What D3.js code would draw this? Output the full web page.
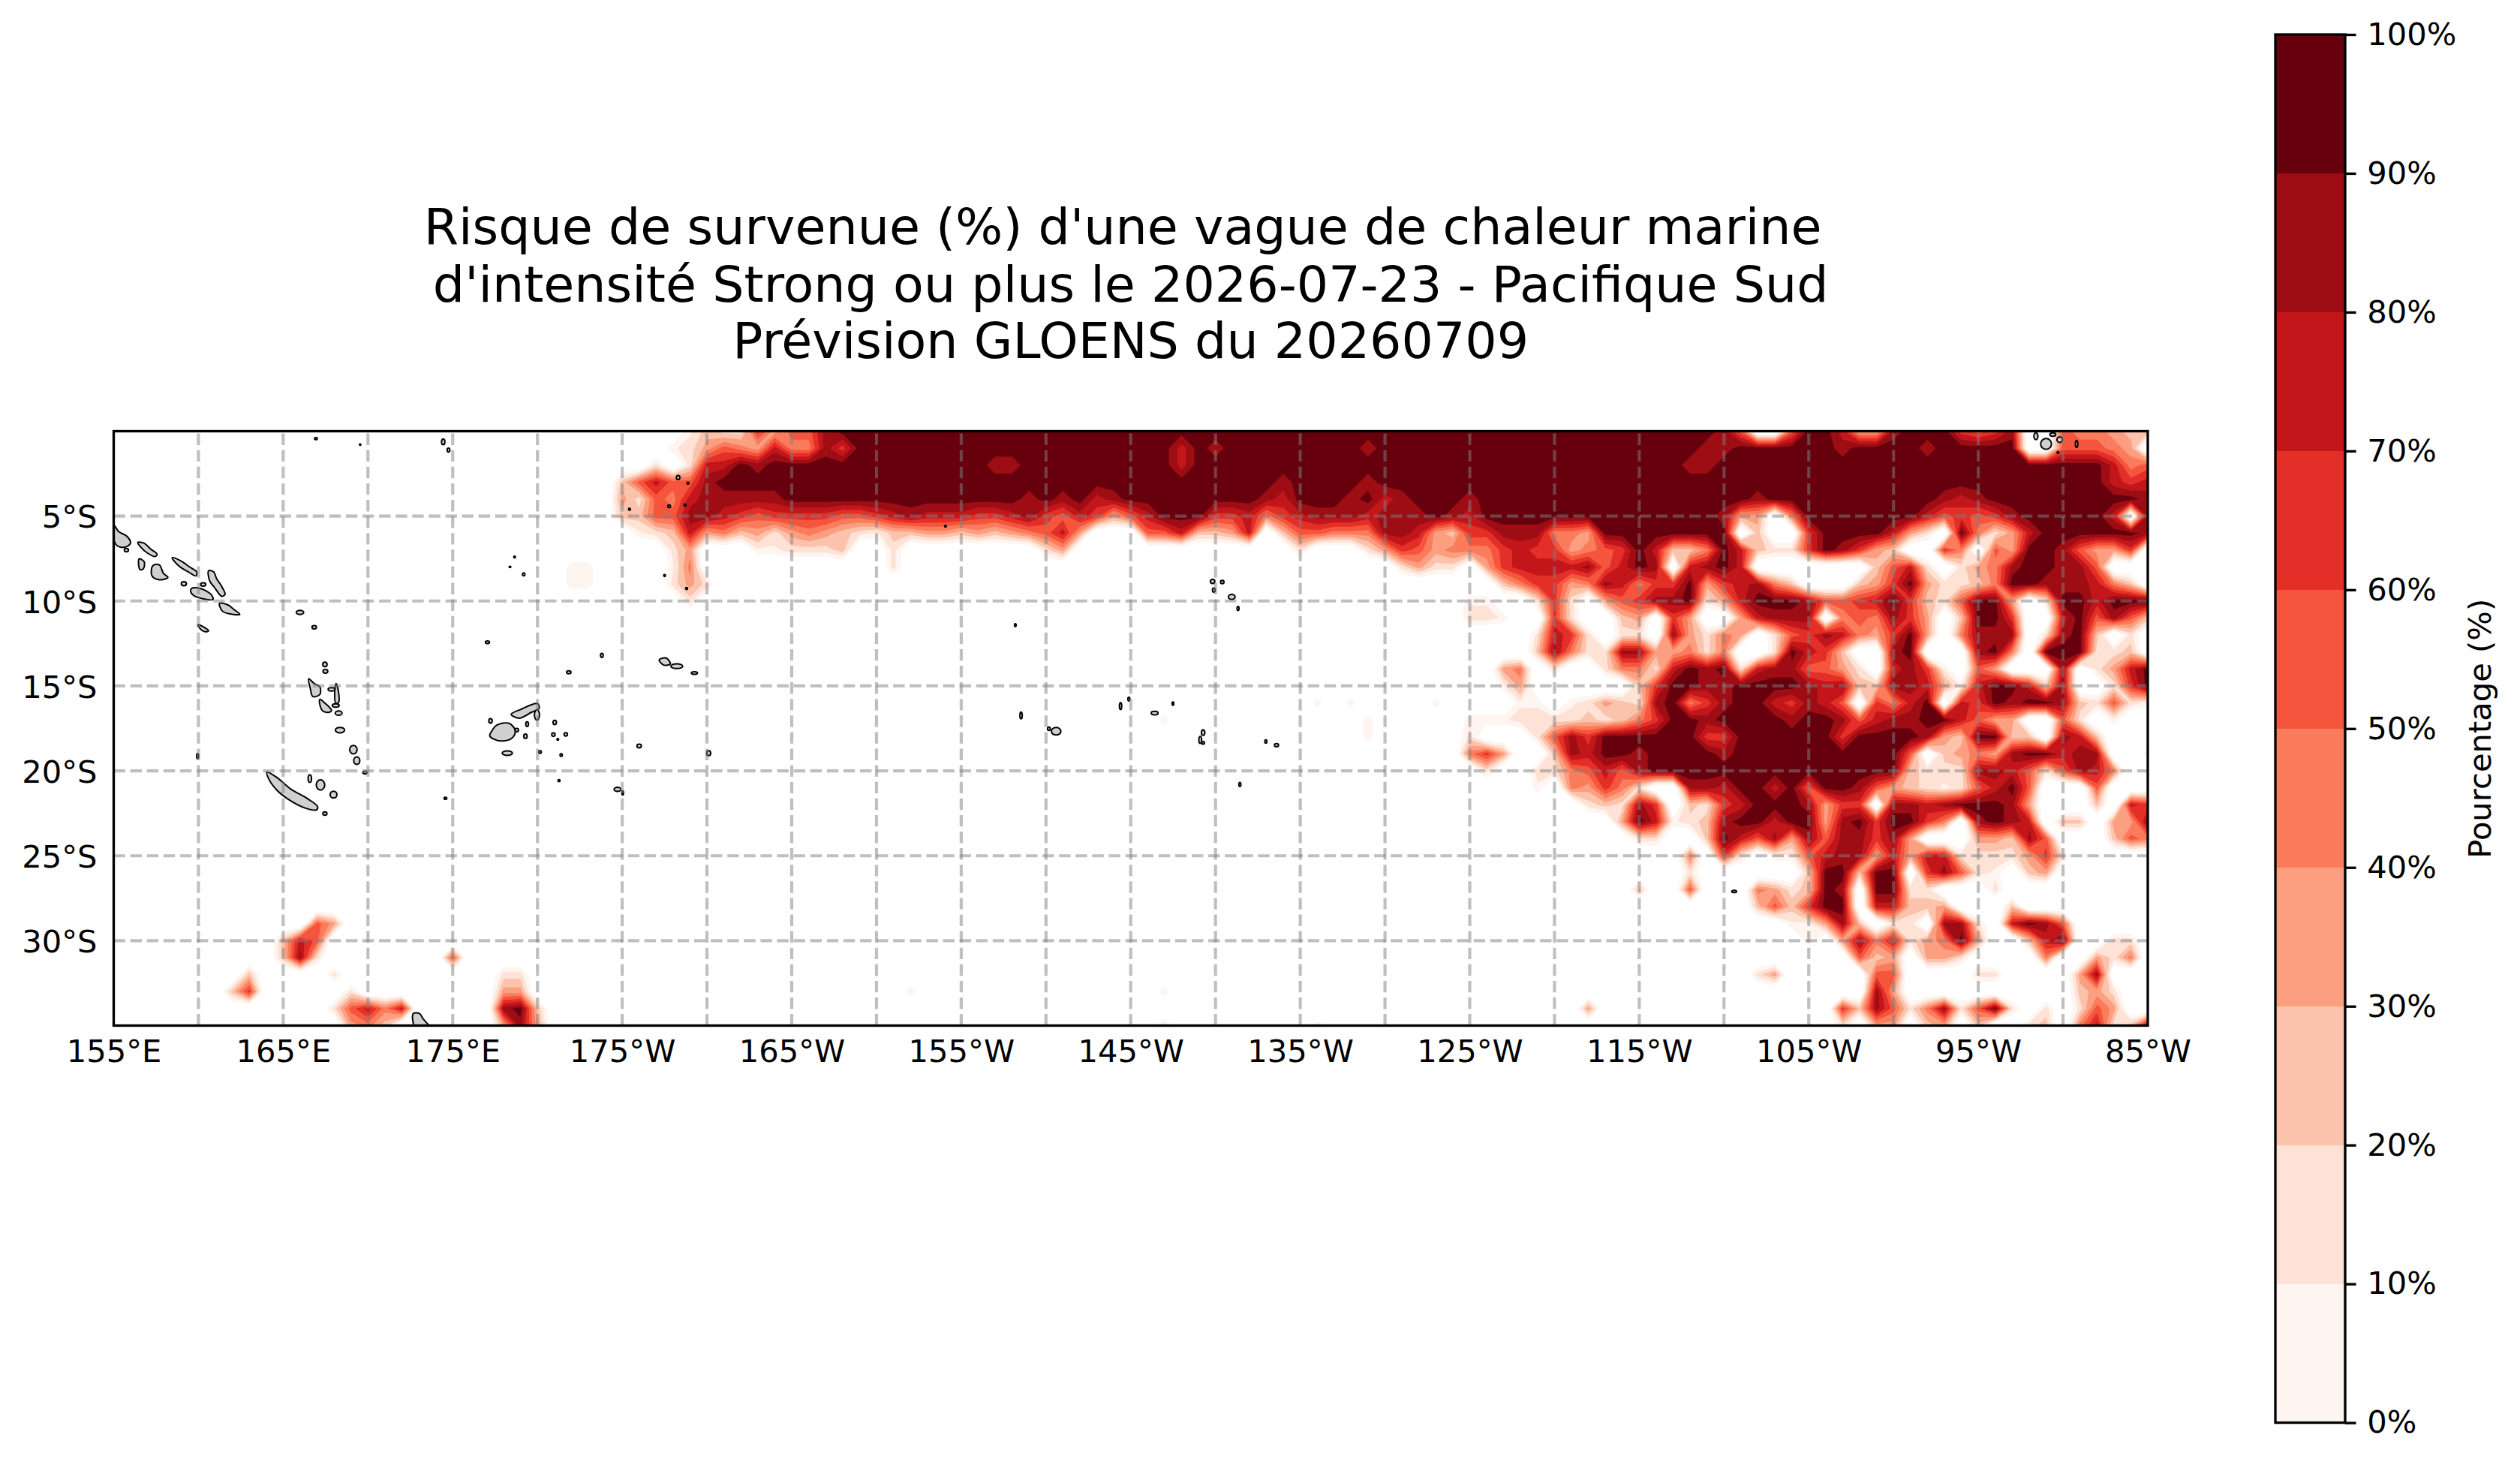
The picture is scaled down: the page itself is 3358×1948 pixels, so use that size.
<!DOCTYPE html>
<html><head><meta charset="utf-8">
<style>html,body{margin:0;padding:0;background:#fff}svg{display:block}text{font-family:"DejaVu Sans";fill:#000}</style>
<script src="https://cdn.jsdelivr.net/npm/d3@7/dist/d3.min.js"></script>
</head><body><div id="chart"></div>
<script>
const titleLines = ["Risque de survenue (%) d'une vague de chaleur marine ", "d'intensité Strong ou plus le 2026-07-23 - Pacifique Sud", "Prévision GLOENS du 20260709"];
const cbarLabel = "Pourcentage (%)";
const levels = [0,10,20,30,40,50,60,70,80,90,100];
const levelColors = ["#fff5f0","#fee2d5","#fcc3ac","#fc9f81","#fb7c5c","#f5553c","#e32f27","#c2161b","#9e0d14","#67000d"];
const lonTicks = [155,165,175,185,195,205,215,225,235,245,255,265,275];
const latTicks = [-5,-10,-15,-20,-25,-30];
const lonGrid = [160,165,170,175,180,185,190,195,200,205,210,215,220,225,230,235,240,245,250,255,260,265,270];
const latGrid = [-5,-10,-15,-20,-25,-30];
// percent value standing for each decile digit; the "no value" cells sit below zero
const decileValues = [8,15,25,35,45,55,65,75,85,95];
const noValue = -20;

// risk, one row per degree of latitude: deciles 0-9, "." = no value.
// [lon,"digits"] places digits eastward from lon; [lonA,lonB,d] repeats a decile.
const lat00=[[189,"021163558"],[198,250,9],[250,"85..599733899965686.544322"],[268,"."]];
const lat01=[[188,"01354374486"],[199,248,9],[218,"7"],[220,"8"],[229,"8"],[249,"88999999899998999999.55543."],[268,"."]];
const lat02=[[187,"1.17798"],[194,271,9],[207,"88"],[218,"7"],[248,"88"],[272,"9745"]];
const lat03=[[185,"257558"],[191,272,9],[224,"8"],[229,"8"],[273,"767"]];
const lat04=[[185,"3154788888"],[195,275,9],[209,"8"],[211,"8"],[213,"78"],[223,"87"],[228,"8"],[230,"78"],[235,"8"],[252,"8"],[263,"878"],[275,"8"]];
const lat05=[[185,"225588765666655678777667865763579996674678887888987"],[236,249,9],[250,"833.4"],[255,261,9],[262,"756568"],[268,272,9],[273,"7.8"]];
const lat06=[[186,"012734231343210223323234573...5572237.2554448873266888443"],[243,250,9],[251,"."],[252,"2..6"],[256,259,9],[260,"731.94137"],[269,274,9],[275,"8"]];
const lat07=[[188,"13"],[193,"001112"],[201,"1"],[210,"13"],[225,"1"],[229,"13"],[231,"653444676634569722497211698632..64.539985336"]];
const lat08=[[182,"00"],[188,"04"],[201,"1"],[231,"1311.36777785798.7897.......2571.134899885..."]];
const lat09=[[182,"00"],[188,"131"],[237,"246634874669367842...23693112499888742."]];
const lat10=[[189,"1"],[235,"00"],[239,"161.3568891379998556796215993.1997999"]];
const lat11=[[235,"110"],[240,"61"],[244,"23.63..37888.454863.2996..795852"]];
const lat12=[[239,"1761"],[244,"11.83143.1568743693.4888.1892.1."]];
const lat13=[[239,"284118833414..19762..89...894.999112."]];
const lat14=[[237,"34.1"],[243,"1441798917885531.7860.53...8.1379"]];
const lat15=[[237,"03"],[245,"26998899998782288730799728..169"]];
const lat16=[[226,"0"],[228,"0"],[233,"0"],[238,"00.01321894689976875.6479.769899821510"]];
const lat17=[[217,"0"],[229,"0"],[235,"000111121246998999989985788997533..51.0"]];
const lat18=[[229,"0"],[235,"1"],[239,"1586999999669999996"],[258,261,9],[262,"8329922.872"]];
const lat19=[[235,"463"],[240,"287"],[243,"998"],[246,249,9],[250,"8"],[251,260,9],[261,"5.2343899788..0"]];
const lat20=[[236,"1"],[239,"1145758"],[246,260,9],[261,"2111887515874"]];
const lat21=[[239,"0"],[241,"43641..887997959985321015795"],[272,"5"]];
const lat22=[[242,"12186.21679998366.887899983"],[272,"2"],[274,"76"]];
const lat23=[[244,"39701289979938969964.8987"],[270,"22"],[273,"338"]];
const lat24=[[245,"11"],[249,"2975838588683"],[265,"33285"],[273,"254"]];
const lat25=[[248,"4.61.005788373771111361"]];
const lat26=[[248,"1"],[255,"299299"],[262,"68510.23"]];
const lat27=[[245,"2"],[248,"5"],[252,"431298.9911"],[266,"1"]];
const lat28=[[252,"252699.77223"],[267,"2"]];
const lat29=[[167,"53"],[254,"00382.11.881.7985"]];
const lat30=[[165,"275"],[255,"0.384713493..279..11"]];
const lat31=[[165,"281"],[175,"5"],[258,"523.331"],[269,"4"],[272,"314"]];
const lat32=[[163,"2"],[168,"1"],[178,"11"],[252,"13"],[259,"55"],[265,"11"],[271,"38"]];
const lat33=[[162,"26"],[169,"1"],[178,"33"],[202,"0"],[217,"0"],[259,"83"],[271,"231"]];
const lat34=[[168,"15747"],[178,"892"],[242,"3"],[257,"62851481591"],[269,"1"],[271,"153"]];
const lat35=[[169,"342"],[178,"383"],[217,"1"],[226,"0"],[257,"1.33.23.2"],[268,"12.47128"]];
const latRows=[lat00,lat01,lat02,lat03,lat04,lat05,lat06,lat07,lat08,lat09,lat10,lat11,lat12,lat13,lat14,lat15,lat16,lat17,lat18,lat19,lat20,lat21,lat22,lat23,lat24,lat25,lat26,lat27,lat28,lat29,lat30,lat31,lat32,lat33,lat34,lat35];

// land outlines, lon/lat
const landOutlines=[
[[155,-5.51],[155.28,-5.9],[155.79,-6.2],[155.99,-6.6],[155.66,-6.83],[155.23,-6.76],[155,-6.37]],
[[156.42,-6.55],[156.8,-6.6],[157.18,-6.94],[157.56,-7.25],[157.44,-7.38],[157,-7.18],[156.6,-6.83]],
[[158.45,-7.45],[158.96,-7.64],[159.47,-7.99],[159.9,-8.29],[159.85,-8.52],[159.47,-8.33],[158.83,-7.92]],
[[156.5,-7.52],[156.8,-7.69],[156.75,-8.1],[156.55,-8.15]],
[[157.31,-7.92],[157.69,-7.87],[157.94,-8.38],[158.2,-8.61],[157.69,-8.75],[157.26,-8.52]],
[[160.6,-8.22],[160.9,-8.29],[161.07,-8.68],[161.37,-9.14],[161.57,-9.61],[161.37,-9.72],[160.99,-9.26],[160.66,-8.8]],
[[159.6,-9.26],[160.1,-9.26],[160.74,-9.61],[160.86,-9.91],[160.23,-9.86],[159.72,-9.68],[159.54,-9.44]],
[[161.24,-10.14],[161.74,-10.23],[162.13,-10.53],[162.44,-10.79],[161.88,-10.76],[161.42,-10.6]],
[[159.97,-11.39],[160.3,-11.53],[160.6,-11.76],[160.4,-11.81],[160.05,-11.57]],
[[166.5,-14.58],[166.83,-14.86],[167.16,-15.05],[167.16,-15.5],[166.75,-15.63],[166.6,-15.16]],
[[167.16,-15.79],[167.47,-16.02],[167.85,-16.44],[167.72,-16.55],[167.34,-16.48],[167.16,-16.09]],
[[168.12,-14.86],[168.25,-15.28],[168.27,-15.97],[168.1,-16.02],[168.04,-15.39]],
[[164.04,-20.07],[164.67,-20.42],[165.43,-21.06],[166.45,-21.65],[167.03,-22.11],[166.96,-22.3],[166.32,-22.2],[165.43,-21.76],[164.67,-21.18],[164.16,-20.5]],
[[177.28,-17.7],[177.6,-17.31],[178.32,-17.2],[178.68,-17.6],[178.57,-18],[178,-18.24],[177.36,-18.1],[177.18,-17.92]],
[[178.45,-16.67],[179,-16.39],[180,-16.04],[180.1,-16.32],[179.65,-16.55],[178.9,-16.9]],
[[187.18,-13.47],[187.59,-13.36],[187.84,-13.7],[187.44,-13.77]],
[[172.67,-34.3],[173.05,-34.3],[173.25,-34.6],[173.68,-35.1],[173.9,-35.6],[172.9,-35.4]]
];
// small islands: lon, lat, half-width and half-height in degrees
const smallIslands=[
[159.14,-8.98,.15,.12],[160.28,-9.03,.15,.1],[155.75,-7,.12,.1],[165.99,-10.67,.22,.12],[166.83,-11.55,.13,.1],[167.46,-13.73,.13,.13],[167.49,-14.14,.14,.11],
[167.85,-15.2,.2,.1],[168.1,-16.15,.2,.1],[168.27,-16.6,.2,.13],[168.35,-17.6,.27,.16],[169.14,-18.75,.22,.25],[169.34,-19.4,.18,.22],[169.82,-20.1,.12,.08],
[166.57,-20.46,.1,.22],[167.2,-20.83,.25,.3],[167.97,-21.4,.2,.2],[167.46,-22.52,.12,.1],[179.97,-16.71,.15,.3],[177.23,-17.06,.1,.13],[179.39,-17.25,.08,.14],
[178.78,-17.6,.1,.1],[179.29,-17.96,.1,.13],[181.02,-17.15,.1,.13],[180.94,-17.87,.1,.1],[181.67,-17.85,.1,.1],[181.2,-18.15,.05,.05],[178.22,-18.96,.3,.13],
[180.15,-18.89,.08,.08],[181.4,-19.07,.07,.08],[181.27,-20.58,.06,.06],[174.57,-21.62,.08,.06],[159.95,-19.14,.06,.15],[177.05,-12.43,.12,.08],[183.8,-13.2,.08,.12],
[181.85,-14.2,.13,.09],[188.22,-13.84,.35,.14],[189.26,-14.24,.18,.08],[186,-18.54,.13,.11],[190.1,-18.96,.12,.15],[184.72,-21.09,.2,.12],[185.03,-21.3,.05,.12],
[166.93,-.44,.08,.06],[169.54,-.79,.04,.04],[174.44,-.63,.1,.17],[174.75,-1.11,.08,.12],[178.65,-7.41,.05,.05],[178.38,-7.99,.05,.04],[179.19,-8.43,.07,.09],
[188.3,-2.73,.1,.12],[188.88,-3.06,.06,.06],[187.77,-4.42,.08,.08],[188.7,-4.35,.06,.06],[185.43,-4.6,.06,.06],[187.5,-8.5,.05,.06],[188.8,-9.26,.06,.06],[204.07,-5.6,.05,.05],
[219.83,-8.85,.13,.12],[220.4,-8.88,.1,.1],[219.9,-9.36,.08,.12],[220.96,-9.76,.2,.15],[221.33,-10.44,.06,.12],[208.19,-11.42,.05,.08],[208.53,-16.74,.07,.2],[210.17,-17.52,.08,.1],
[210.6,-17.67,.28,.22],[214.4,-16.19,.07,.2],[214.89,-15.78,.06,.11],[216.41,-16.6,.2,.1],[217.49,-16.04,.05,.1],[219.27,-17.75,.1,.16],[219.1,-18.18,.08,.2],[219.27,-18.35,.08,.08],
[222.97,-18.27,.06,.1],[223.6,-18.49,.12,.09],[221.44,-20.8,.06,.12],[250.6,-27.1,.14,.07],
[269,-.75,.32,.32],[268.4,-.3,.12,.2],[269.4,-.2,.17,.1],[269.8,-.5,.16,.16],[270.8,-.75,.07,.2],[269.7,-1.25,.05,.05]
];

const W=3358,H=1948;
const plot={l:151.5,r:2862,t:574.5,b:1366.5};
const cbar={l:3032,r:3125,t:46,b:1895.6};
const FS=41.67, lw=3.33;

const x=d3.scaleLinear().domain([155,275]).range([plot.l,plot.r]);
const y=d3.scaleLinear().domain([0,-35]).range([plot.t,plot.b]);
const cy=d3.scaleLinear().domain([0,100]).range([cbar.b,cbar.t]);

// expand the rows into a grid
const nx=121, ny=latRows.length;
const grid=new Array(nx*ny).fill(noValue);
latRows.forEach((row,j)=>{
  row.forEach(t=>{
    if(t.length===3){ for(let lon=t[0];lon<=t[1];lon++) grid[j*nx+lon-155]=decileValues[t[2]]; }
    else { [...t[1]].forEach((c,k)=>{ const lon=t[0]+k; if(lon<=275) grid[j*nx+lon-155]= c==="."?noValue:decileValues[+c]; }); }
  });
});

const svg=d3.select("#chart").append("svg").attr("width",W).attr("height",H).attr("viewBox",`0 0 ${W} ${H}`);
svg.append("defs").append("clipPath").attr("id","map").append("rect")
  .attr("x",plot.l).attr("y",plot.t).attr("width",plot.r-plot.l).attr("height",plot.b-plot.t);

const map=svg.append("g").attr("clip-path","url(#map)");
const contours=d3.contours().size([nx,ny]).thresholds(levels.slice(0,-1))(grid);
const toPlot=d3.geoTransform({point(px,py){ this.stream.point(x(155+px-0.5),y(-(py-0.5))); }});
const path=d3.geoPath(toPlot);
map.selectAll("path.band").data(contours).join("path").attr("class","band")
  .attr("d",path).attr("fill",(d,i)=>levelColors[i]);

// land
const land=map.append("g");
const outline=d3.line().x(d=>x(d[0])).y(d=>y(d[1])).curve(d3.curveCatmullRomClosed.alpha(0.5));
land.selectAll("path").data(landOutlines).join("path").attr("d",outline)
  .attr("fill","#d0d0d0").attr("stroke","#000").attr("stroke-width",2);
land.selectAll("ellipse").data(smallIslands).join("ellipse")
  .attr("cx",d=>x(d[0])).attr("cy",d=>y(d[1]))
  .attr("rx",d=>x(155+d[2])-x(155)).attr("ry",d=>y(-d[3])-y(0))
  .attr("fill","#d0d0d0").attr("stroke","#000").attr("stroke-width",2);

// graticule
const gridStyle=s=>s.attr("stroke","#808080").attr("stroke-opacity",0.5).attr("stroke-width",4.17).attr("stroke-dasharray","15.4 6.7").attr("fill","none");
map.append("g").selectAll("line").data(lonGrid).join("line")
  .attr("x1",d=>x(d)).attr("x2",d=>x(d)).attr("y1",plot.b).attr("y2",plot.t).call(gridStyle);
map.append("g").selectAll("line").data(latGrid).join("line")
  .attr("y1",d=>y(d)).attr("y2",d=>y(d)).attr("x1",plot.l).attr("x2",plot.r).call(gridStyle);

svg.append("rect").attr("x",plot.l).attr("y",plot.t).attr("width",plot.r-plot.l).attr("height",plot.b-plot.t)
  .attr("fill","none").attr("stroke","#000").attr("stroke-width",lw);

// map labels
const lonFmt=d=> d<=180?`${d}°E`:`${360-d}°W`;
const xAxis=d3.axisBottom(x).tickValues(lonTicks).tickFormat(lonFmt).tickSize(0).tickPadding(19);
const gx=svg.append("g").attr("transform",`translate(0,${plot.b})`).call(xAxis);
gx.select(".domain").remove(); gx.selectAll("text").attr("font-size",FS).attr("font-family","DejaVu Sans");
const yAxis=d3.axisLeft(y).tickValues(latTicks).tickFormat(d=>`${-d}°S`).tickSize(0).tickPadding(22);
const gy=svg.append("g").attr("transform",`translate(${plot.l},2)`).call(yAxis);
gy.select(".domain").remove(); gy.selectAll("text").attr("font-size",FS).attr("font-family","DejaVu Sans");

// title
const titleBase=[325,402,477];
svg.append("g").selectAll("text").data(titleLines).join("text")
  .attr("x",(plot.l+plot.r)/2).attr("y",(d,i)=>titleBase[i]).attr("text-anchor","middle")
  .attr("font-size",66.67).style("white-space","pre").text(d=>d);

// colour bar
svg.append("g").selectAll("rect").data(levelColors).join("rect")
  .attr("x",cbar.l).attr("width",cbar.r-cbar.l)
  .attr("y",(d,i)=>cy(levels[i+1])).attr("height",(d,i)=>cy(levels[i])-cy(levels[i+1]))
  .attr("fill",d=>d).attr("shape-rendering","crispEdges");
svg.append("rect").attr("x",cbar.l).attr("y",cbar.t).attr("width",cbar.r-cbar.l).attr("height",cbar.b-cbar.t)
  .attr("fill","none").attr("stroke","#000").attr("stroke-width",lw);
const cAxis=d3.axisRight(cy).tickValues(levels).tickFormat(d=>`${d}%`).tickSize(14.6).tickPadding(14.6);
const gc=svg.append("g").attr("transform",`translate(${cbar.r},0)`).call(cAxis);
gc.select(".domain").remove();
gc.selectAll("line").attr("stroke","#000").attr("stroke-width",lw);
gc.selectAll("text").attr("font-size",FS).attr("font-family","DejaVu Sans");
svg.append("text").attr("transform",`translate(3319,${(cbar.t+cbar.b)/2}) rotate(-90)`)
  .attr("text-anchor","middle").attr("font-size",FS).text(cbarLabel);
</script></body></html>
